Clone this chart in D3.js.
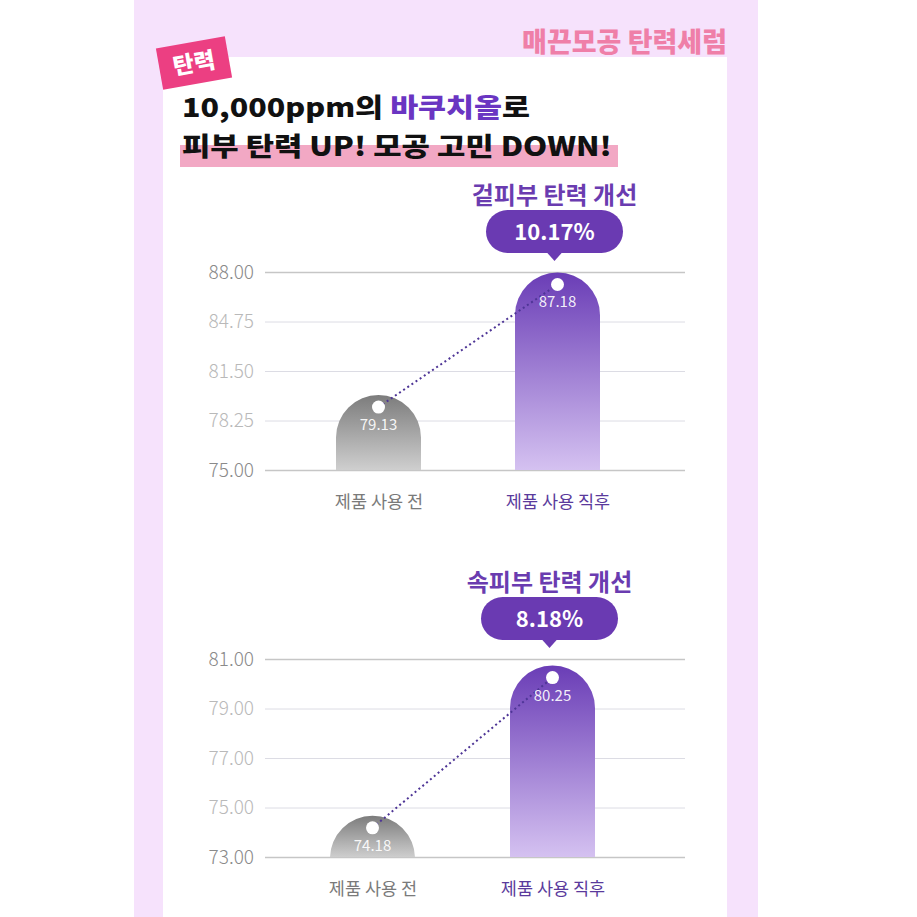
<!DOCTYPE html>
<html>
<head>
<meta charset="utf-8">
<script src="https://cdn.jsdelivr.net/npm/d3@7"></script>
<style>
  html, body { margin: 0; padding: 0; background: #fff; }
  svg { display: block; font-family: "Noto Sans CJK KR", "Noto Sans", sans-serif; }
</style>
</head>
<body>
<div id="chart"></div>
<script>
// data
var categories = ["제품 사용 전", "제품 사용 직후"];

var outerTitle = "겉피부 탄력 개선";
var outerChange = "10.17%";
var outerValues = [79.13, 87.18];
var outerTicks = [75.00, 78.25, 81.50, 84.75, 88.00];

var innerTitle = "속피부 탄력 개선";
var innerChange = "8.18%";
var innerValues = [74.18, 80.25];
var innerTicks = [73.00, 75.00, 77.00, 79.00, 81.00];

var W = 917, H = 917;

var svg = d3.select("#chart").append("svg")
    .attr("width", W)
    .attr("height", H);

var defs = svg.append("defs");

var grayGrad = defs.append("linearGradient").attr("id", "grayGrad")
    .attr("x1", 0).attr("y1", 0).attr("x2", 0).attr("y2", 1);
grayGrad.append("stop").attr("offset", "0%").attr("stop-color", "#7c7c7c");
grayGrad.append("stop").attr("offset", "100%").attr("stop-color", "#d0d0d0");

var purpleGrad = defs.append("linearGradient").attr("id", "purpleGrad")
    .attr("x1", 0).attr("y1", 0).attr("x2", 0).attr("y2", 1);
purpleGrad.append("stop").attr("offset", "0%").attr("stop-color", "#6a3db6");
purpleGrad.append("stop").attr("offset", "100%").attr("stop-color", "#d5c2f1");

// background panels
svg.append("rect").attr("x", 134).attr("y", 0).attr("width", 624).attr("height", H).attr("fill", "#f6e2fc");
svg.append("rect").attr("x", 163).attr("y", 57).attr("width", 564).attr("height", H - 57).attr("fill", "#fff");

// header
svg.append("text")
    .attr("x", 727).attr("y", 52)
    .attr("text-anchor", "end")
    .attr("font-size", 27).attr("font-weight", 900)
    .attr("fill", "#ef7fa8")
    .text("매끈모공 탄력세럼");

var tag = svg.append("g").attr("transform", "translate(194,63) rotate(-10)");
tag.append("rect").attr("x", -35).attr("y", -21).attr("width", 70).attr("height", 42).attr("fill", "#ec3f82");
tag.append("text")
    .attr("text-anchor", "middle").attr("dy", "0.36em")
    .attr("font-size", 23).attr("font-weight", 900)
    .attr("fill", "#fff")
    .text("탄력");

// headline
svg.append("rect").attr("x", 180).attr("y", 145).attr("width", 438).attr("height", 22).attr("fill", "#f2a8c4");

// a headline line made of pieces laid end to end, then squeezed to its width in the picture
function headline(pieces, x, baseline, width) {
    var g = svg.append("g");
    var cursor = 0;
    pieces.forEach(function(p) {
        var t = g.append("text")
            .attr("x", cursor).attr("y", baseline)
            .attr("font-size", 26).attr("font-weight", 900)
            .attr("fill", p.color)
            .text(p.text);
        cursor += t.node().getComputedTextLength();
    });
    g.attr("transform", "translate(" + x + ",0) scale(" + (width / cursor) + ",1)");
}

headline([
    { text: "10,000ppm의\u00A0", color: "#111" },
    { text: "바쿠치올", color: "#6a35c2" },
    { text: "로", color: "#111" }
], 182, 117, 348);

headline([
    { text: "피부 탄력 UP! 모공 고민 DOWN!", color: "#111" }
], 182, 156, 430);

function drawChart(opts) {
    var g = svg.append("g");

    var y = d3.scaleLinear()
        .domain([opts.ticks[0], opts.ticks[opts.ticks.length - 1]])
        .range([opts.bottom, opts.top]);

    var x = d3.scalePoint()
        .domain(categories)
        .range(opts.xRange);

    var gridLeft = 265, gridRight = 685;
    var barW = 85, r = barW / 2;
    var n = opts.ticks.length;

    // y axis with gridlines
    var yAxis = g.append("g")
        .attr("transform", "translate(" + gridLeft + ",0)")
        .call(d3.axisLeft(y).tickValues(opts.ticks).tickFormat(d3.format(".2f"))
            .tickSize(-(gridRight - gridLeft)).tickPadding(11));
    yAxis.select(".domain").remove();
    yAxis.selectAll(".tick line")
        .attr("stroke", function(d, i) { return (i === 0 || i === n - 1) ? "#c6c6c6" : "#dcdce4"; })
        .attr("stroke-width", function(d, i) { return (i === 0 || i === n - 1) ? 1.6 : 1; });
    yAxis.selectAll(".tick text")
        .attr("font-family", "'Noto Sans CJK KR', sans-serif")
        .attr("font-size", 19)
        .attr("font-weight", 300)
        .attr("fill", function(d, i) { return (i === 0 || i === n - 1) ? "#8a8a8a" : "#b9b9b9"; });

    // clip bars at baseline
    var clipId = "clip" + opts.id;
    defs.append("clipPath").attr("id", clipId)
        .append("rect")
        .attr("x", gridLeft).attr("y", 0)
        .attr("width", gridRight - gridLeft).attr("height", opts.bottom);

    var data = categories.map(function(c, i) { return { cat: c, value: opts.values[i], i: i }; });

    // the dot sits on the value, the rounded cap rises a little above it
    var capAbove = 12;

    g.append("g").attr("clip-path", "url(#" + clipId + ")")
        .selectAll("path")
        .data(data)
        .enter().append("path")
        .attr("d", function(d) {
            var x0 = x(d.cat) - r, top = y(d.value) - capAbove, bottom = opts.bottom + 1;
            return "M" + x0 + "," + bottom +
                "L" + x0 + "," + (top + r) +
                "A" + r + "," + r + " 0 0 1 " + (x0 + barW) + "," + (top + r) +
                "L" + (x0 + barW) + "," + bottom + "Z";
        })
        .attr("fill", function(d) { return d.i === 0 ? "url(#grayGrad)" : "url(#purpleGrad)"; });

    // dotted connector
    g.append("line")
        .attr("x1", x(categories[0])).attr("y1", y(opts.values[0]))
        .attr("x2", x(categories[1])).attr("y2", y(opts.values[1]))
        .attr("stroke", "#4e3596")
        .attr("stroke-width", 2)
        .attr("stroke-dasharray", "2,3");

    g.selectAll("circle.dot")
        .data(data)
        .enter().append("circle")
        .attr("class", "dot")
        .attr("cx", function(d) { return x(d.cat); })
        .attr("cy", function(d) { return y(d.value); })
        .attr("r", 6.5)
        .attr("fill", "#fff");

    g.selectAll("text.val")
        .data(data)
        .enter().append("text")
        .attr("class", "val")
        .attr("x", function(d) { return x(d.cat); })
        .attr("y", function(d) { return y(d.value) + 23; })
        .attr("text-anchor", "middle")
        .attr("font-size", 15)
        .attr("fill", "#fff")
        .attr("fill-opacity", 0.92)
        .text(function(d) { return d3.format(".2f")(d.value); });

    // x axis labels
    var xAxis = g.append("g")
        .attr("transform", "translate(0," + opts.bottom + ")")
        .call(d3.axisBottom(x).tickSize(0).tickPadding(26));
    xAxis.select(".domain").remove();
    xAxis.selectAll(".tick text")
        .attr("font-family", "'Noto Sans CJK KR', sans-serif")
        .attr("font-size", 17.5)
        .attr("font-weight", 400)
        .attr("fill", function(d, i) { return i === 0 ? "#7a7a7a" : "#5a3a9c"; });

    // callout
    var cx = x(categories[1]) - 3;
    var top = opts.top;
    g.append("text")
        .attr("x", cx).attr("y", top - 68)
        .attr("text-anchor", "middle")
        .attr("font-size", 24).attr("font-weight", 700)
        .attr("fill", "#6a3cb0")
        .text(opts.title);

    g.append("path")
        .attr("d", "M" + (cx - 8) + "," + (top - 20) + "L" + cx + "," + (top - 11) + "L" + (cx + 8) + "," + (top - 20) + "Z")
        .attr("fill", "#6a3ab2");
    g.append("rect")
        .attr("x", cx - 68.5).attr("y", top - 62)
        .attr("width", 137).attr("height", 43)
        .attr("rx", 21.5)
        .attr("fill", "#6a3ab2");
    g.append("text")
        .attr("x", cx).attr("y", top - 40)
        .attr("dy", "0.36em")
        .attr("text-anchor", "middle")
        .attr("font-size", 22).attr("font-weight", 700)
        .attr("fill", "#fff")
        .text(opts.change);
}

drawChart({ id: 1, title: outerTitle, change: outerChange, values: outerValues, ticks: outerTicks,
    top: 272, bottom: 470, xRange: [378.5, 557.5] });
drawChart({ id: 2, title: innerTitle, change: innerChange, values: innerValues, ticks: innerTicks,
    top: 659, bottom: 857, xRange: [372.5, 552.5] });
</script>
</body>
</html>
